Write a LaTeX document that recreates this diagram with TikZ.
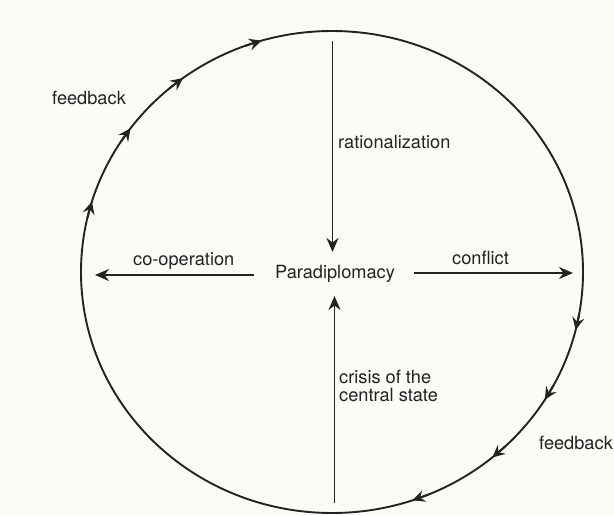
\documentclass[tikz,border=0pt]{standalone}
\usepackage{fontspec}
\setmainfont{TeX Gyre Heros}
\usetikzlibrary{arrows.meta}
\definecolor{paper}{RGB}{252,251,245}
\definecolor{ink}{RGB}{35,35,35}
\tikzset{
  lbl/.style={anchor=base west,inner sep=0pt,text=ink,font=\fontsize{18.2}{19}\selectfont},
  mainarrow/.style={draw=ink,line width=1.9pt,-{Stealth[length=14pt,width=12pt,inset=4.5pt]}},
  ringtip/.style={draw=ink,line width=1.9pt,-{Stealth[length=12.5pt,width=12pt,inset=4.5pt]}},
  ring/.style={draw=ink,line width=1.9pt}
}
\begin{document}
\begin{tikzpicture}[x=1pt,y=-1pt]
\fill[paper] (0,0) rectangle (614,515);
\useasboundingbox (0,0) rectangle (614,515);
% ring
\draw[ring] (332,272) ellipse [x radius=251pt, y radius=241pt];
\foreach \t in {197,216.6,233.6,253.7,13.9,32,50.3,71.3}{
  \draw[ringtip] ({332+251*cos(\t-4)},{272+241*sin(\t-4)}) -- ({332+251*cos(\t)},{272+241*sin(\t)});
}
% labels
\node[lbl] (fbtl) at (52,104.5) {feedback};
\node[lbl] (rat) at (338,148.5) {rationalization};
\node[lbl] (coop) at (133,265.5) {co-operation};
\node[lbl,anchor=base] (para) at (335,278.5) {Paradiplomacy};
\node[lbl] (conf) at (452,264) {conflict};
\node[lbl] (cris1) at (339,383) {crisis of the};
\node[lbl] (cris2) at (339,401) {central state};
\node[lbl] (fbr) at (539,449) {feedback};
% arrow end points
\coordinate (ttop) at (332.5,41);
\coordinate (tend) at (332.5,252);
\coordinate (btop) at (334.5,503);
\coordinate (bend) at (334.5,296);
\coordinate (lstart) at (254,275);
\coordinate (lend) at (95,275);
\coordinate (rstart) at (414,273);
\coordinate (rend) at (573,273);
\draw[mainarrow] (ttop) -- (tend);
\draw[mainarrow] (btop) -- (bend);
\draw[mainarrow] (lstart) -- (lend);
\draw[mainarrow] (rstart) -- (rend);
\end{tikzpicture}
\end{document}
